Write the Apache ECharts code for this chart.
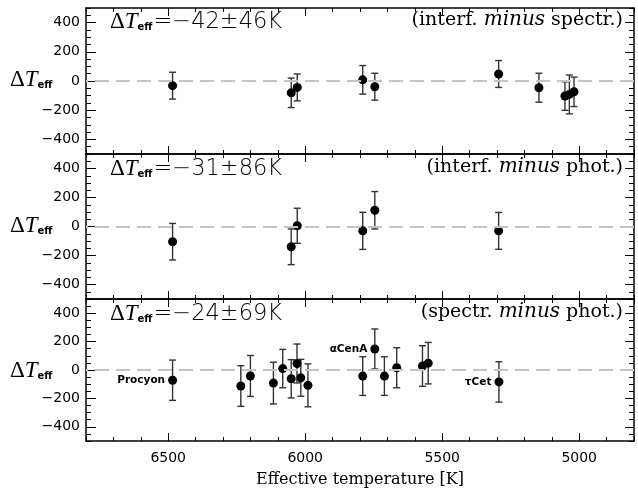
<!DOCTYPE html>
<html>
<head>
<meta charset="utf-8">
<script src="https://cdn.jsdelivr.net/npm/echarts@6/dist/echarts.min.js"></script>
<style>html,body{margin:0;padding:0;background:#fff}#c{width:638px;height:489px}</style>
</head>
<body>
<div id="c"></div>
<script>
// ---- data ----
const xMajorTicks = [5000, 5500, 6000, 6500];
const yMajorTicks = [-400, -200, 0, 200, 400];

// panel 1: interferometric minus spectroscopic
const teffIS = [6484, 6051, 6029, 5790, 5746, 5294, 5147, 5052, 5036, 5019];
const dIS    = [-32, -81, -44, 8, -39, 48, -46, -103, -92, -74];
const eIS    = [92, 101, 92, 98, 92, 92, 99, 98, 133, 101];

// panel 2: interferometric minus photometric
const teffIP = [6484, 6051, 6029, 5790, 5746, 5294];
const dIP    = [-105, -140, 5, -30, 112, -30];
const eIP    = [126, 123, 121, 128, 129, 127];

// panel 3: spectroscopic minus photometric
const teffSP = [6484, 6235, 6200, 6116, 6082, 6051, 6030, 6016, 5990, 5790, 5746, 5711, 5666, 5572, 5551, 5293];
const dSP    = [-72, -113, -42, -92, 10, -62, 46, -55, -108, -43, 148, -43, 16, 28, 48, -84];
const eSP    = [142, 143, 144, 147, 135, 135, 137, 130, 151, 136, 141, 136, 141, 143, 146, 142];
const namesSP = ['Procyon', '', '', '', '', '', '', '', '', '', '\u03b1CenA', '', '', '', '', '\u03c4Cet'];

const statTexts = ['=\u221242\u00b146K', '=\u221231\u00b186K', '=\u221224\u00b169K'];
const pairTexts = [['interf.', 'spectr.'], ['interf.', 'phot.'], ['spectr.', 'phot.']];
const xTitle = 'Effective temperature [K]';

// ---- layout ----
const X_MIN = 4800, X_MAX = 6800, Y_MIN = -500, Y_MAX = 500;
const gridTops = [8, 154, 299];
const gridHeights = [146, 145, 145];
const GL = 86, GR = 4;

const chart = echarts.init(document.getElementById('c'), null, {renderer: 'canvas'});

const grids = gridTops.map((t, i) => ({left: GL, right: GR, top: t, height: gridHeights[i]}));

const lineStyle = {color: '#000', width: 1.5};
const tickStyle = {color: '#000', width: 1};
const xAxes = [], yAxes = [];
for (let g = 0; g < 3; g++) {
  const xb = {gridIndex: g, type: 'value', min: X_MIN, max: X_MAX, inverse: true, splitLine: {show: false}};
  xAxes.push(Object.assign({}, xb, {
    position: 'bottom', interval: 100,
    axisLine: {show: true, onZero: false, lineStyle},
    axisTick: {show: true, inside: true, length: 4, lineStyle: tickStyle},
    axisLabel: g === 2 ? {
      show: true, margin: 10, color: '#000', fontFamily: 'DejaVu Sans', fontSize: 14,
      formatter: v => (v % 500 === 0 && v >= 5000 && v <= 6500) ? String(v) : ''
    } : {show: false},
    name: g === 2 ? xTitle : '', nameLocation: 'middle', nameGap: 31,
    nameTextStyle: {color: '#000', fontFamily: 'DejaVu Serif', fontSize: 16}
  }));
  xAxes.push(Object.assign({}, xb, {
    position: 'bottom',
    axisLine: {show: false, onZero: false},
    axisTick: {show: true, inside: true, length: 8, customValues: xMajorTicks, lineStyle: tickStyle},
    axisLabel: {show: false}
  }));
  xAxes.push(Object.assign({}, xb, {
    position: 'top', interval: 100,
    axisLine: {show: true, onZero: false, lineStyle},
    axisTick: {show: true, inside: true, length: 4, lineStyle: tickStyle},
    axisLabel: {show: false}
  }));
  xAxes.push(Object.assign({}, xb, {
    position: 'top',
    axisLine: {show: false, onZero: false},
    axisTick: {show: true, inside: true, length: 8, customValues: xMajorTicks, lineStyle: tickStyle},
    axisLabel: {show: false}
  }));

  const yb = {gridIndex: g, type: 'value', min: Y_MIN, max: Y_MAX, splitLine: {show: false}};
  yAxes.push(Object.assign({}, yb, {
    position: 'left', interval: 50,
    axisLine: {show: true, onZero: false, lineStyle},
    axisTick: {show: true, inside: true, length: 5, lineStyle: tickStyle},
    axisLabel: {
      show: true, margin: 6, color: '#000', fontFamily: 'DejaVu Sans', fontSize: 14,
      formatter: v => (v % 200 === 0 && Math.abs(v) <= 400) ? (v < 0 ? '\u2212' + (-v) : String(v)) : ''
    }
  }));
  yAxes.push(Object.assign({}, yb, {
    position: 'left',
    axisLine: {show: false, onZero: false},
    axisTick: {show: true, inside: true, length: 10, customValues: yMajorTicks, lineStyle: tickStyle},
    axisLabel: {show: false}
  }));
  yAxes.push(Object.assign({}, yb, {
    position: 'right', interval: 50,
    axisLine: {show: true, onZero: false, lineStyle},
    axisTick: {show: true, inside: true, length: 5, lineStyle: tickStyle},
    axisLabel: {show: false}
  }));
  yAxes.push(Object.assign({}, yb, {
    position: 'right',
    axisLine: {show: false, onZero: false},
    axisTick: {show: true, inside: true, length: 9, customValues: yMajorTicks, lineStyle: tickStyle},
    axisLabel: {show: false}
  }));
}

const panels = [
  {teff: teffIS, d: dIS, e: eIS, names: null},
  {teff: teffIP, d: dIP, e: eIP, names: null},
  {teff: teffSP, d: dSP, e: eSP, names: namesSP}
];

function errRender(params, api) {
  const x = api.value(0), y = api.value(1), e = api.value(2);
  const hi = api.coord([x, y + e]), lo = api.coord([x, y - e]);
  const w = 3.5;
  const st = {stroke: '#333', lineWidth: 1.4, fill: null};
  return {type: 'group', children: [
    {type: 'line', shape: {x1: hi[0], y1: hi[1], x2: lo[0], y2: lo[1]}, style: st},
    {type: 'line', shape: {x1: hi[0] - w, y1: hi[1], x2: hi[0] + w, y2: hi[1]}, style: st},
    {type: 'line', shape: {x1: lo[0] - w, y1: lo[1], x2: lo[0] + w, y2: lo[1]}, style: st}
  ]};
}

const series = [];
panels.forEach((p, g) => {
  series.push({
    type: 'line', xAxisIndex: g * 4, yAxisIndex: g * 4, data: [], z: 1, silent: true,
    markLine: {
      silent: true, symbol: ['none', 'none'], label: {show: false},
      lineStyle: {color: '#c4c4c4', width: 2, type: [14, 7]},
      data: [{yAxis: 0}]
    }
  });
  series.push({
    type: 'custom', xAxisIndex: g * 4, yAxisIndex: g * 4, z: 2, silent: true,
    encode: {x: 0, y: 1},
    renderItem: errRender,
    data: p.teff.map((t, i) => [t, p.d[i], p.e[i]])
  });
  series.push({
    type: 'scatter', xAxisIndex: g * 4, yAxisIndex: g * 4, z: 3, silent: true,
    symbol: 'circle', symbolSize: 9, itemStyle: {color: '#000', opacity: 1},
    data: p.teff.map((t, i) => [t, p.d[i]]),
    label: p.names ? {
      show: true, position: 'left', distance: 3, color: '#000',
      fontFamily: 'DejaVu Sans', fontWeight: 'bold', fontSize: 10.5,
      formatter: q => p.names[q.dataIndex]
    } : {show: false}
  });
});

const richStat = {
  d: {fontFamily: 'Liberation Serif', fontSize: 23, color: '#000'},
  t: {fontFamily: 'Liberation Serif', fontStyle: 'italic', fontSize: 23, color: '#000'},
  s: {fontFamily: 'DejaVu Sans', fontWeight: 'bold', fontSize: 10, color: '#000', padding: [11, 1, 0, 0]},
  n: {fontFamily: 'DejaVu Sans', fontWeight: 200, fontSize: 22.5, color: '#000'}
};
const richPair = {
  p: {fontFamily: 'DejaVu Serif', fontSize: 19, color: '#000'},
  i: {fontFamily: 'DejaVu Serif', fontStyle: 'italic', fontSize: 20, color: '#000'}
};
const statY = [22, 169, 314];
const pairY = [20, 167, 312];
const nameY = [80, 226, 371];
const graphics = [];
for (let g = 0; g < 3; g++) {
  graphics.push({type: 'text', x: 110, y: statY[g], silent: true, z: 10,
    style: {text: '{d|\u0394}{t|T}{s|eff}{n|' + statTexts[g] + '}', rich: richStat, verticalAlign: 'middle', align: 'left'}});
  graphics.push({type: 'text', x: 623, y: pairY[g], silent: true, z: 10,
    style: {text: '{p|(' + pairTexts[g][0] + ' }{i|minus}{p| ' + pairTexts[g][1] + ')}', rich: richPair, verticalAlign: 'middle', align: 'right'}});
  graphics.push({type: 'text', x: 10, y: nameY[g], silent: true, z: 10,
    style: {text: '{d|\u0394}{t|T}{s|eff}', rich: richStat, verticalAlign: 'middle', align: 'left'}});
}

chart.setOption({
  animation: false,
  backgroundColor: '#fff',
  grid: grids,
  xAxis: xAxes,
  yAxis: yAxes,
  series: series,
  graphic: graphics
});
</script>
</body>
</html>
